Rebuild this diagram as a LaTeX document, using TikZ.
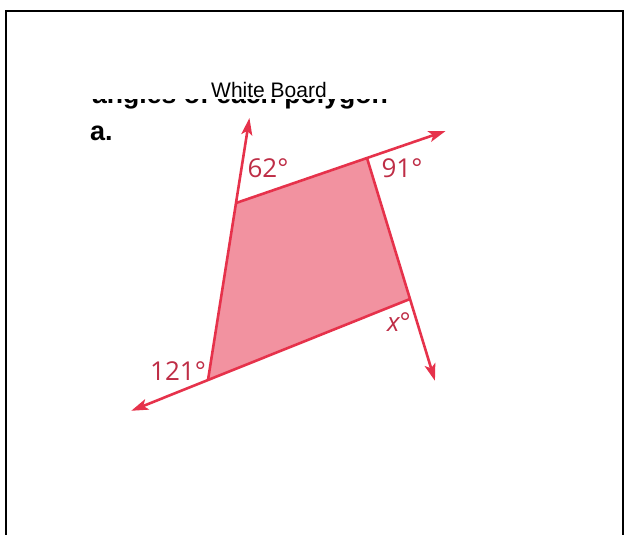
\documentclass[tikz,border=0pt]{standalone}
\usepackage{fontspec}
\setmainfont{Liberation Sans}
\newfontfamily\anglefont{Open Sans}
\usepackage{tikz}
\usetikzlibrary{arrows.meta, calc}
\definecolor{edgered}{RGB}{230, 50, 75}
\definecolor{fillpink}{RGB}{242, 146, 160}
\definecolor{labelred}{RGB}{190, 45, 70}

\begin{document}
\begin{tikzpicture}[x=1pt, y=-1pt, >={Stealth[length=17pt, width=11pt, inset=4pt]}]
    \useasboundingbox (0,0) rectangle (626,535);
    \draw[line width=2.4pt] (6,545) -- (6,11) -- (623,11) -- (623,545);
    \coordinate (A) at (236,203);
    \coordinate (B) at (367,158);
    \coordinate (C) at (410,299);
    \coordinate (D) at (208,380);
    \coordinate (tA) at ($(D)!1.48!(A)$);
    \coordinate (tB) at ($(A)!1.6!(B)$);
    \coordinate (tC) at ($(B)!1.58!(C)$);
    \coordinate (tD) at ($(C)!1.38!(D)$);
    \begin{scope}
        \clip (80,99) rectangle (400,112);
        \node[anchor=base west, inner sep=0] (task) at (92,103) {\fontsize{26.6}{30}\selectfont\bfseries angles of each polygon};
    \end{scope}
    \node[anchor=base west, inner sep=0] (board) at (211,97) {\fontsize{21}{25}\selectfont White Board};
    \node[anchor=base west, inner sep=0] (part) at (90,140) {\fontsize{27}{30}\selectfont\bfseries a.};
    \fill[fillpink] (A) -- (B) -- (C) -- (D) -- cycle;
    \draw[->, edgered, line width=2.6pt] (D) -- (tA);
    \draw[->, edgered, line width=2.6pt] (A) -- (tB);
    \draw[->, edgered, line width=2.6pt] (B) -- (tC);
    \draw[->, edgered, line width=2.6pt] (C) -- (tD);
    \node[labelred, font=\anglefont\fontsize{26}{30}\selectfont] (a62) at (268,168) {62°};
    \node[labelred, font=\anglefont\fontsize{26}{30}\selectfont] (a91) at (402,168) {91°};
    \node[labelred, font=\anglefont\fontsize{26}{30}\selectfont] (ax) at (399,322) {\itshape x\upshape°};
    \node[labelred, font=\anglefont\fontsize{26}{30}\selectfont] (a121) at (178,371) {121°};
\end{tikzpicture}
\end{document}
